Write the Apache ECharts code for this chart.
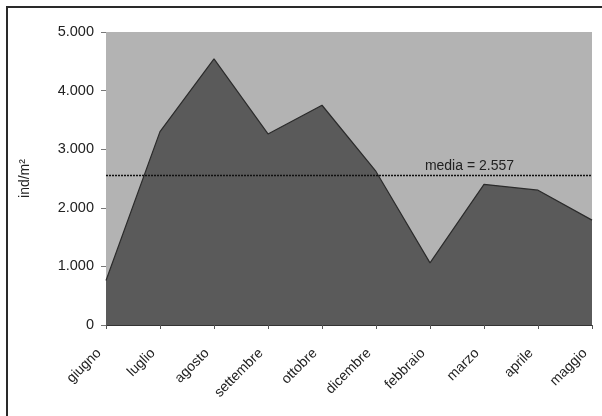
<!DOCTYPE html>
<html>
<head>
<meta charset="utf-8">
<script src="https://cdn.jsdelivr.net/npm/echarts@6/dist/echarts.min.js"></script>
<style>
  html, body { margin: 0; padding: 0; background: #ffffff; }
  #chart { width: 602px; height: 416px; }
</style>
</head>
<body>
<div id="chart"></div>
<script>
// Monthly density (individuals per square metre)
const months = ['giugno', 'luglio', 'agosto', 'settembre', 'ottobre', 'dicembre', 'febbraio', 'marzo', 'aprile', 'maggio'];
const density = [760, 3300, 4540, 3260, 3750, 2620, 1060, 2400, 2300, 1790];
const meanValue = 2557;
const meanLabel = 'media = 2.557';
const yTickValues = [0, 1000, 2000, 3000, 4000, 5000];

const fmtThousands = v => {
  const s = String(Math.round(v));
  return s.replace(/\B(?=(\d{3})+(?!\d))/g, '.');
};

const chart = echarts.init(document.getElementById('chart'), null, { renderer: 'canvas' });
const FONT = '"Liberation Sans", Arial, Helvetica, sans-serif';

chart.setOption({
  animation: false,
  backgroundColor: '#ffffff',
  textStyle: { fontFamily: FONT },
  grid: {
    left: 106, right: 10, top: 32, bottom: 91,
    show: true, backgroundColor: '#b3b3b3', borderWidth: 0
  },
  graphic: [{
    type: 'rect',
    shape: { x: 7, y: 7, width: 700, height: 700 },
    style: { fill: 'none', stroke: '#2a2a2a', lineWidth: 2 },
    silent: true
  }],
  xAxis: {
    type: 'category',
    data: months,
    boundaryGap: false,
    axisLine: { show: true, lineStyle: { color: '#333333', width: 1 } },
    axisTick: { show: true, length: 4, alignWithLabel: true, lineStyle: { color: '#555555' } },
    axisLabel: {
      rotate: 45, margin: 19, padding: [0, 10, 0, 0],
      color: '#222222', fontSize: 14, fontFamily: FONT, interval: 0
    },
    splitLine: { show: false }
  },
  yAxis: {
    type: 'value',
    min: yTickValues[0],
    max: yTickValues[yTickValues.length - 1],
    interval: 1000,
    name: 'ind/m²',
    nameLocation: 'middle',
    nameRotate: 90,
    nameGap: 74,
    nameTextStyle: { color: '#222222', fontSize: 14, fontFamily: FONT },
    axisLine: { show: false },
    axisTick: { show: true, length: 5, lineStyle: { color: '#777777' } },
    axisLabel: { color: '#222222', fontSize: 14.5, fontFamily: FONT, margin: 12, formatter: fmtThousands },
    splitLine: { show: false }
  },
  series: [{
    type: 'line',
    data: density,
    symbol: 'none',
    lineStyle: { color: '#2b2b2b', width: 1.2 },
    areaStyle: { color: '#5a5a5a', opacity: 1 },
    markLine: {
      silent: true,
      symbol: 'none',
      data: [{ yAxis: meanValue }],
      lineStyle: { color: '#111111', type: [2, 1], width: 1.3 },
      label: {
        show: true,
        position: 'insideEndTop',
        distance: 2,
        formatter: meanLabel,
        color: '#222222',
        fontSize: 14,
        fontFamily: FONT,
        padding: [0, 76, 0, 0]
      }
    },
    z: 2
  }]
});
</script>
</body>
</html>
